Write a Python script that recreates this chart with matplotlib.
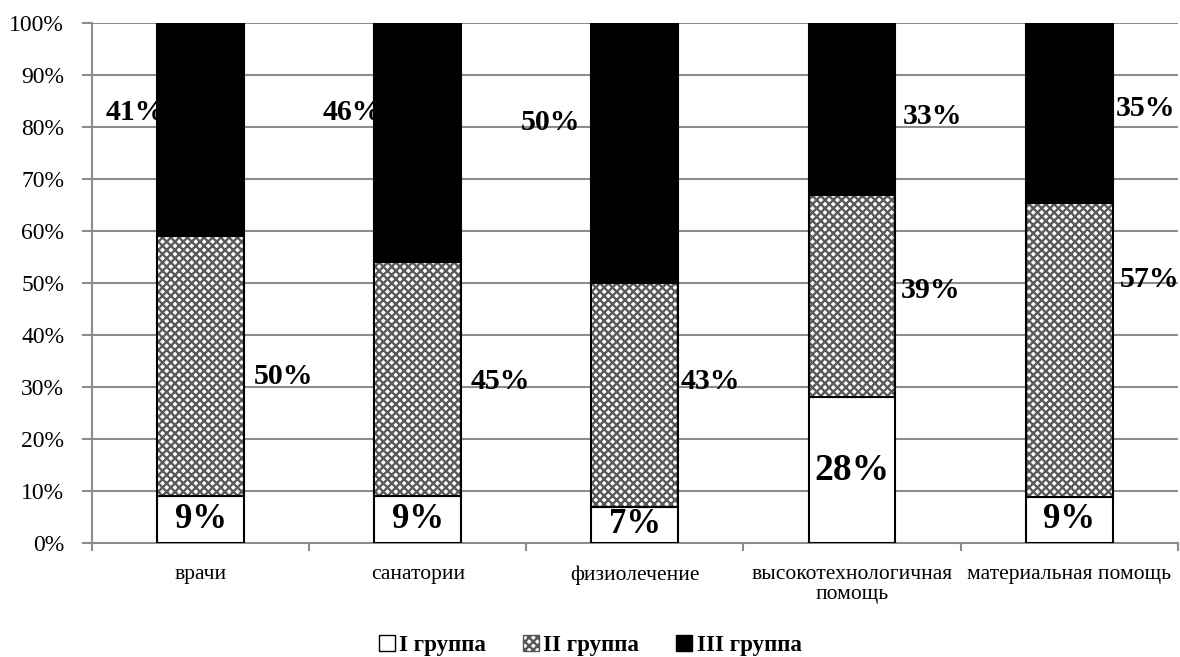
import matplotlib
matplotlib.use("Agg")
import matplotlib.pyplot as plt
import numpy as np
from matplotlib.patches import Patch

categories = ["врачи", "санатории", "физиолечение", "высокотехнологичная\nпомощь", "материальная помощь"]
group1 = [9, 9, 7, 28, 9]
group2 = [50, 45, 43, 39, 57]
group3 = [41, 46, 50, 33, 35]
series_names = ["I группа", "II группа", "III группа"]

plt.rcParams['font.family'] = ['Liberation Serif', 'DejaVu Serif']
plt.rcParams['hatch.linewidth'] = 1.7

fig = plt.figure(figsize=(11.8, 6.57), dpi=100)
ax = fig.add_axes([0.078, 0.1735, 0.92, 0.7915])

vals = np.array([group1, group2, group3], dtype=float)
tot = vals.sum(axis=0)
pct = vals / tot * 100
x = np.arange(len(categories))
w = 0.4

b1 = pct[0]
b2 = pct[1]
b3 = pct[2]

ax.bar(x, b1, w, color="white", edgecolor="black", linewidth=1.5, zorder=3)
ax.bar(x, b2, w, bottom=b1, color="white", edgecolor="#5a5a5a", hatch="xxxx", linewidth=0, zorder=3)
ax.bar(x, b2, w, bottom=b1, fill=False, edgecolor="black", linewidth=1.5, zorder=4)
ax.bar(x, b3, w, bottom=b1 + b2, color="black", edgecolor="black", linewidth=1.5, zorder=3)

# labels
for i in range(len(categories)):
    ax.text(x[i], b1[i] / 2, f"{group1[i]}%", ha="center", va="center",
            fontsize=25 if group1[i] < 20 else 27, fontweight="bold", zorder=5)

g2_dx = [0.38, 0.38, 0.35, 0.36, 0.37]
g2_y = [32, 31, 31, 48.6, 50.6]
for i in range(len(categories)):
    ax.text(x[i] + g2_dx[i], g2_y[i], f"{group2[i]}%", ha="center", va="center",
            fontsize=21.5, fontweight="bold", zorder=2)

g3_dx = [-0.30, -0.30, -0.39, 0.37, 0.35]
g3_y = [82.7, 82.7, 80.8, 82.0, 83.6]
for i in range(len(categories)):
    ax.text(x[i] + g3_dx[i], g3_y[i], f"{group3[i]}%", ha="center", va="center",
            fontsize=21.5, fontweight="bold", zorder=2)

ax.set_xlim(-0.5, len(categories) - 0.5)
ax.set_ylim(0, 100)
ax.set_yticks(np.arange(0, 101, 10))
ax.set_yticklabels([f"{v}%" for v in range(0, 101, 10)], fontsize=17)
ax.yaxis.grid(True, color="#8c8c8c", linewidth=1.5, zorder=0)
ax.set_axisbelow(True)

ax.set_xticks(x)
ax.set_xticklabels(categories, fontsize=15.5, linespacing=1.05)
ax.tick_params(axis="x", length=0, pad=16)
ax.set_xticks(np.arange(-0.5, len(categories), 1), minor=True)
ax.tick_params(axis="x", which="minor", length=6, width=1.5, color="#8c8c8c", direction="out")
ax.tick_params(axis="y", length=7, width=1.5, color="#8c8c8c", direction="out", pad=13)

for s in ["top", "right"]:
    ax.spines[s].set_visible(False)
ax.spines["left"].set_color("#8c8c8c")
ax.spines["left"].set_linewidth(1.5)
ax.spines["bottom"].set_color("#8c8c8c")
ax.spines["bottom"].set_linewidth(1.5)

handles = [
    Patch(facecolor="white", edgecolor="black", linewidth=1.0),
    Patch(facecolor="white", edgecolor="#555555", hatch="xxxx", linewidth=1.0),
    Patch(facecolor="black", edgecolor="black", linewidth=1.0),
]
fig.legend(handles, series_names, loc="center", bbox_to_anchor=(0.5, 0.017),
           ncol=3, frameon=False, prop={"weight": "bold", "size": 16.5},
           handlelength=0.7, handleheight=0.7, handletextpad=0.2, columnspacing=1.6)

fig.savefig("out.png", dpi=100)
